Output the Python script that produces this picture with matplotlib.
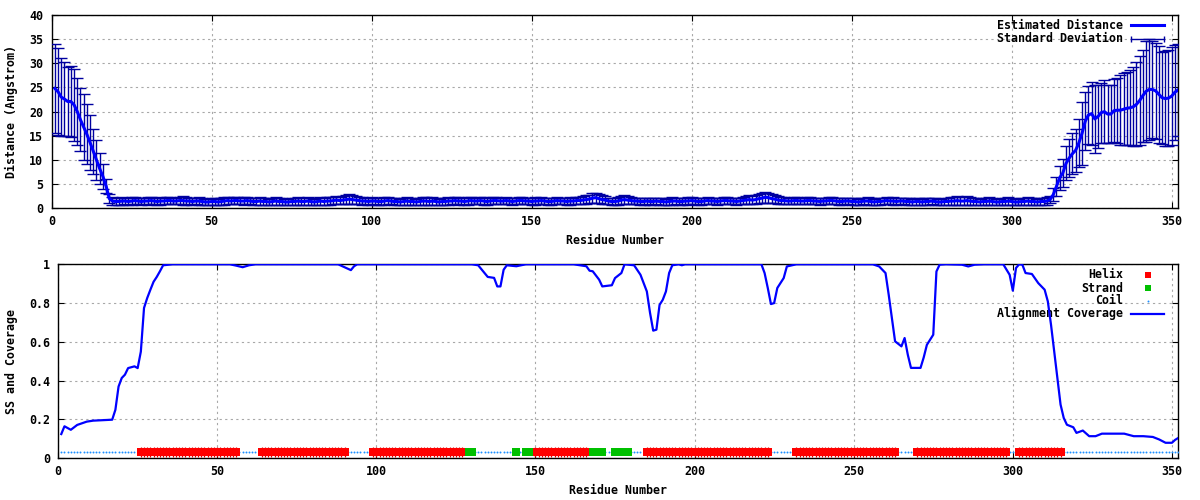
import numpy as np
import matplotlib
matplotlib.use('Agg')
import matplotlib.pyplot as plt
from matplotlib.lines import Line2D

# ---------------- data ----------------
residues = np.arange(1, 353)

dist_nterm = [24.8, 24.1, 23.0, 22.6, 22.1, 22.1, 21.4, 20.0, 18.3, 16.8,
              15.3, 13.6, 11.8, 10.0, 8.2, 6.6, 4.6, 2.0]
sd_nterm = [9.3, 9.0, 8.0, 7.6, 7.2, 7.4, 7.4, 7.0, 6.5, 6.9,
            6.2, 5.7, 4.6, 4.1, 3.2, 2.6, 1.5, 1.0]

dist_core = [
    1.5, 1.4, 1.4, 1.5, 1.5, 1.4, 1.5, 1.6, 1.5, 1.4, 1.5, 1.5, 1.6, 1.5, 1.4, 1.5, 1.5, 1.6, 1.6, 1.5,
    1.5, 1.6, 1.6, 1.5, 1.5, 1.4, 1.5, 1.5, 1.4, 1.3, 1.3, 1.4, 1.4, 1.3, 1.4, 1.5, 1.6, 1.5, 1.6, 1.6,
    1.5, 1.5, 1.6, 1.5, 1.4, 1.4, 1.5, 1.4, 1.4, 1.3, 1.4, 1.5, 1.4, 1.4, 1.3, 1.3, 1.4, 1.4, 1.5, 1.4,
    1.4, 1.5, 1.4, 1.3, 1.4, 1.5, 1.4, 1.5, 1.5, 1.6, 1.7, 1.6, 1.7, 1.8, 1.9, 1.8, 1.7, 1.6, 1.5, 1.5,
    1.4, 1.5, 1.5, 1.4, 1.4, 1.5, 1.6, 1.5, 1.4, 1.4, 1.3, 1.4, 1.5, 1.4, 1.4, 1.3, 1.4, 1.5, 1.5, 1.4,
    1.5, 1.4, 1.3, 1.4, 1.4, 1.5, 1.5, 1.6, 1.5, 1.5, 1.4, 1.5, 1.6, 1.5, 1.5, 1.6, 1.5, 1.4, 1.5, 1.6,
    1.6, 1.5, 1.5, 1.6, 1.5, 1.4, 1.5, 1.6, 1.6, 1.5, 1.5, 1.4, 1.5, 1.5, 1.6, 1.5, 1.4, 1.4, 1.5, 1.6,
    1.5, 1.5, 1.4, 1.5, 1.5, 1.6, 1.6, 1.7, 1.8, 1.9, 2.1, 2.2, 2.0, 1.8, 1.7, 1.5, 1.4, 1.4, 1.5, 1.7,
    1.8, 1.7, 1.6, 1.5, 1.5, 1.4, 1.4, 1.5, 1.4, 1.4, 1.5, 1.4, 1.4, 1.3, 1.4, 1.5, 1.5, 1.4, 1.4, 1.5,
    1.5, 1.6, 1.5, 1.4, 1.4, 1.5, 1.6, 1.5, 1.5, 1.4, 1.5, 1.6, 1.6, 1.5, 1.5, 1.4, 1.5, 1.6, 1.7, 1.8,
    1.7, 1.8, 2.0, 2.1, 2.3, 2.2, 2.0, 1.9, 1.7, 1.6, 1.6, 1.5, 1.5, 1.6, 1.6, 1.5, 1.5, 1.6, 1.6, 1.5,
    1.5, 1.4, 1.5, 1.5, 1.6, 1.6, 1.5, 1.4, 1.4, 1.5, 1.5, 1.4, 1.4, 1.3, 1.4, 1.5, 1.5, 1.4, 1.3, 1.4,
    1.4, 1.5, 1.6, 1.5, 1.5, 1.4, 1.5, 1.5, 1.4, 1.4, 1.3, 1.4, 1.4, 1.3, 1.4, 1.4, 1.5, 1.4, 1.3, 1.3,
    1.4, 1.4, 1.5, 1.5, 1.6, 1.5, 1.5, 1.6, 1.5, 1.4, 1.4, 1.3, 1.4, 1.4, 1.5, 1.4, 1.3, 1.3, 1.4, 1.4,
    1.5, 1.4, 1.3, 1.3, 1.4, 1.4, 1.5, 1.4, 1.4, 1.3, 1.4, 1.4, 1.5]
sd_core = [
    0.8, 0.7, 0.7, 0.8, 0.7, 0.7, 0.8, 0.8, 0.7, 0.7, 0.7, 0.8, 0.8, 0.7, 0.7, 0.8, 0.7, 0.8, 0.8, 0.7,
    0.7, 0.8, 0.9, 0.8, 0.7, 0.7, 0.7, 0.8, 0.7, 0.7, 0.7, 0.7, 0.8, 0.7, 0.7, 0.8, 0.8, 0.7, 0.8, 0.8,
    0.7, 0.8, 0.8, 0.7, 0.7, 0.7, 0.8, 0.7, 0.7, 0.7, 0.7, 0.8, 0.7, 0.7, 0.7, 0.7, 0.7, 0.7, 0.8, 0.7,
    0.7, 0.8, 0.7, 0.7, 0.7, 0.8, 0.7, 0.8, 0.8, 0.8, 0.9, 0.8, 0.9, 1.0, 1.0, 0.9, 0.9, 0.8, 0.8, 0.7,
    0.7, 0.8, 0.7, 0.7, 0.7, 0.8, 0.8, 0.7, 0.7, 0.7, 0.7, 0.7, 0.8, 0.7, 0.7, 0.7, 0.7, 0.8, 0.8, 0.7,
    0.8, 0.7, 0.7, 0.7, 0.7, 0.8, 0.7, 0.8, 0.8, 0.7, 0.7, 0.8, 0.8, 0.7, 0.7, 0.8, 0.8, 0.7, 0.7, 0.8,
    0.8, 0.7, 0.7, 0.8, 0.7, 0.7, 0.7, 0.8, 0.8, 0.7, 0.7, 0.7, 0.8, 0.7, 0.8, 0.7, 0.7, 0.7, 0.7, 0.8,
    0.7, 0.7, 0.7, 0.8, 0.7, 0.8, 0.8, 0.8, 0.9, 0.9, 1.0, 1.0, 0.9, 0.9, 0.8, 0.7, 0.7, 0.7, 0.8, 0.8,
    0.9, 0.8, 0.8, 0.7, 0.7, 0.7, 0.7, 0.7, 0.7, 0.7, 0.7, 0.7, 0.7, 0.7, 0.7, 0.8, 0.7, 0.7, 0.7, 0.7,
    0.8, 0.8, 0.7, 0.7, 0.7, 0.7, 0.8, 0.7, 0.7, 0.7, 0.7, 0.8, 0.8, 0.7, 0.7, 0.7, 0.7, 0.8, 0.8, 0.9,
    0.8, 0.9, 1.0, 1.0, 1.1, 1.0, 1.0, 0.9, 0.8, 0.8, 0.8, 0.7, 0.7, 0.8, 0.8, 0.7, 0.7, 0.8, 0.8, 0.7,
    0.7, 0.7, 0.7, 0.7, 0.8, 0.8, 0.7, 0.7, 0.7, 0.7, 0.7, 0.7, 0.7, 0.7, 0.7, 0.7, 0.8, 0.7, 0.7, 0.7,
    0.7, 0.7, 0.8, 0.7, 0.8, 0.7, 0.7, 0.7, 0.7, 0.7, 0.7, 0.7, 0.7, 0.7, 0.7, 0.7, 0.7, 0.7, 0.7, 0.7,
    0.7, 0.8, 0.8, 0.8, 0.9, 0.8, 0.8, 0.9, 0.8, 0.8, 0.7, 0.7, 0.7, 0.7, 0.8, 0.7, 0.7, 0.7, 0.7, 0.7,
    0.8, 0.7, 0.7, 0.7, 0.7, 0.7, 0.8, 0.7, 0.7, 0.7, 0.7, 0.7, 0.8]

dist_cterm = [1.8, 2.8, 4.5, 6.3, 7.3, 9.3, 10.4, 11.3, 12.0, 13.5,
              15.5, 18.0, 19.3, 19.6, 18.5, 19.0, 19.8, 20.0, 19.5, 19.5,
              20.2, 20.3, 20.3, 20.5, 20.7, 20.8, 21.0, 21.5, 22.3, 23.3,
              24.2, 24.6, 24.6, 24.3, 23.6, 22.9, 22.7, 22.8, 23.2, 24.0, 24.5]
sd_cterm = [0.8, 1.3, 2.0, 2.5, 2.8, 3.5, 4.0, 4.2, 4.5, 5.0,
            6.5, 6.0, 6.0, 6.5, 7.0, 6.5, 6.2, 6.5, 6.0, 6.0,
            6.5, 6.7, 7.3, 7.5, 7.6, 7.8, 8.2, 8.7, 9.3, 9.5,
            10.5, 10.5, 10.0, 10.0, 10.0, 9.5, 9.8, 10.0, 10.2, 9.8, 9.6]

distance = np.array(dist_nterm + dist_core + dist_cterm)
std_dev = np.array(sd_nterm + sd_core + sd_cterm)

cov_res = [1, 2, 4, 6, 9, 11, 17, 18, 19, 20, 21, 22, 24, 25, 26, 27, 28, 29, 30, 31,
           32, 33, 36, 54, 56, 58, 60, 62, 88, 90, 92, 93, 94, 130, 132, 134, 135, 137, 138, 139,
           140, 141, 144, 147, 162, 166, 167, 168, 170, 171, 174, 175, 177, 178, 181, 183, 185, 186, 187, 188,
           189, 190, 191, 192, 193, 195, 196, 197, 221, 222, 223, 224, 225, 226, 228, 229, 232, 256, 258, 260,
           261, 262, 263, 264, 265, 266, 267, 268, 271, 272, 273, 275, 276, 277, 279, 284, 286, 288, 291, 297,
           299, 300, 301, 302, 303, 304, 306, 308, 310, 311, 312, 313, 314, 315, 316, 317, 319, 320, 322, 324,
           326, 328, 335, 338, 341, 344, 346, 348, 350, 351, 352]
cov_val = [0.125, 0.165, 0.147, 0.172, 0.189, 0.194, 0.199, 0.25, 0.37, 0.414, 0.431, 0.465, 0.474, 0.465, 0.55, 0.775, 0.826, 0.869, 0.91, 0.935,
           0.964, 0.995, 1.0, 1.0, 0.993, 0.985, 0.995, 1.0, 1.0, 0.985, 0.97, 0.99, 1.0, 1.0, 0.995, 0.955, 0.935, 0.93, 0.886, 0.886,
           0.972, 0.995, 0.99, 1.0, 1.0, 0.99, 0.967, 0.964, 0.921, 0.886, 0.892, 0.929, 0.955, 1.0, 0.995, 0.946, 0.86, 0.75, 0.658, 0.663,
           0.791, 0.817, 0.86, 0.955, 0.995, 1.0, 0.995, 1.0, 1.0, 0.955, 0.878, 0.795, 0.8, 0.878, 0.929, 0.989, 1.0, 1.0, 0.989, 0.955,
           0.843, 0.723, 0.603, 0.59, 0.577, 0.62, 0.534, 0.466, 0.466, 0.52, 0.585, 0.637, 0.963, 0.998, 1.0, 0.998, 0.989, 0.998, 1.0, 1.0,
           0.946, 0.864, 0.981, 1.0, 0.998, 0.955, 0.95, 0.903, 0.869, 0.809, 0.689, 0.552, 0.414, 0.277, 0.208, 0.173, 0.160, 0.131, 0.143, 0.114,
           0.114, 0.127, 0.127, 0.114, 0.114, 0.110, 0.097, 0.080, 0.080, 0.095, 0.105]

helix_segments = [(26, 56), (64, 90), (99, 127), (150, 166), (185, 223),
                  (232, 263), (270, 298), (302, 315)]
strand_segments = [(129, 130), (144, 144), (147, 148), (168, 171), (175, 179)]
ss_level = 0.03

x_ticks = [0, 50, 100, 150, 200, 250, 300, 350]
dist_ticks = [0, 5, 10, 15, 20, 25, 30, 35, 40]
cov_ticks = [0, 0.2, 0.4, 0.6, 0.8, 1.0]
cov_tick_labels = ['0', '0.2', '0.4', '0.6', '0.8', '1']

# ---------------- derived SS tables ----------------
helix_res = [r for a, b in helix_segments for r in range(a, b + 1)]
strand_res = [r for a, b in strand_segments for r in range(a, b + 1)]
ss_taken = set(helix_res) | set(strand_res)
coil_res = [r for r in residues if r not in ss_taken]

# ---------------- style ----------------
FONT = 'DejaVu Sans Mono'
FS = 8.4
plt.rcParams['font.family'] = FONT
plt.rcParams['font.weight'] = 'bold'
plt.rcParams['font.size'] = FS

W, H = 1200, 500
fig = plt.figure(figsize=(12, 5), dpi=100)


def box(l, t, r, b):
    return [l / W, 1 - b / H, (r - l) / W, (b - t) / H]


ax1 = fig.add_axes(box(51.7, 15, 1178, 208.3))
ax2 = fig.add_axes(box(58.1, 264.3, 1178.3, 458.3))

grid_kw = dict(color='#a8a8a8', linestyle=(0, (2, 3)), linewidth=0.8)

for ax in (ax1, ax2):
    ax.set_xlim(0, 352)
    ax.set_xticks(x_ticks)
    ax.grid(True, **grid_kw)
    ax.set_axisbelow(True)
    ax.tick_params(direction='in', top=True, right=True, length=4.5, width=0.8,
                   labelsize=FS, colors='black')
    ax.tick_params(axis='x', pad=5)
    ax.tick_params(axis='y', pad=6)
    for s in ax.spines.values():
        s.set_linewidth(1.0)
    for lab in ax.get_xticklabels() + ax.get_yticklabels():
        lab.set_fontweight('bold')

# ---- top panel ----
ax1.set_ylim(0, 40)
ax1.set_yticks(dist_ticks)
ax1.errorbar(residues, distance, yerr=std_dev, fmt='none', ecolor='#0000a0',
             elinewidth=1.0, capsize=4.6, capthick=1.0, zorder=3)
ax1.plot(residues, distance, color='#0000ff', linewidth=2.2, zorder=4)
ax1.set_xlabel('Residue Number', fontweight='bold', fontsize=FS, labelpad=4)
ax1.set_ylabel('Distance (Angstrom)', fontweight='bold', fontsize=FS, labelpad=8)

# legend (gnuplot style: text then sample)
tr1 = ax1.transAxes
def ax_frac(ax_l, ax_t, ax_r, ax_b, px, py):
    return ((px - ax_l) / (ax_r - ax_l), (ax_b - py) / (ax_b - ax_t))

A = (51.7, 15, 1178, 208.3)
x_t, y_t = ax_frac(*A, 1123, 25.5)
ax1.text(x_t, y_t, 'Estimated Distance', transform=tr1, ha='right', va='center',
         fontweight='bold', fontsize=FS)
xa, ya = ax_frac(*A, 1131, 24.5)
xb, _ = ax_frac(*A, 1164, 24.5)
ax1.add_line(Line2D([xa, xb], [ya, ya], transform=tr1, color='#0000ff', linewidth=2.2))
x_t, y_t = ax_frac(*A, 1123, 38.8)
ax1.text(x_t, y_t, 'Standard Deviation', transform=tr1, ha='right', va='center',
         fontweight='bold', fontsize=FS)
xa, ya = ax_frac(*A, 1131, 38.8)
xb, _ = ax_frac(*A, 1164, 38.8)
ax1.add_line(Line2D([xa, xb], [ya, ya], transform=tr1, color='#0000a0', linewidth=1.0,
                    marker='|', markersize=4.6, markevery=[0, 1], markeredgewidth=1.0))

# ---- bottom panel ----
ax2.set_ylim(0, 1)
ax2.set_yticks(cov_ticks)
ax2.set_yticklabels(cov_tick_labels)
for lab in ax2.get_yticklabels():
    lab.set_fontweight('bold')
ax2.plot(coil_res, [ss_level] * len(coil_res), linestyle='none', marker='o',
         markersize=1.4, markeredgewidth=0, color='#1e90ff', zorder=3)
ax2.plot(helix_res, [ss_level] * len(helix_res), linestyle='none', marker='|',
         markersize=7.0, markeredgewidth=0.9, color='#e00000', zorder=3)
ax2.plot(helix_res, [ss_level] * len(helix_res), linestyle='none', marker='s',
         markersize=5.2, markeredgewidth=0, color='#ff0000', zorder=3)
ax2.plot(strand_res, [ss_level] * len(strand_res), linestyle='none', marker='s',
         markersize=5.2, markeredgewidth=0, color='#00c000', zorder=4)
ax2.plot(cov_res, cov_val, color='#0000ff', linewidth=1.6, zorder=5)
ax2.set_xlabel('Residue Number', fontweight='bold', fontsize=FS, labelpad=4)
ax2.set_ylabel('SS and Coverage', fontweight='bold', fontsize=FS, labelpad=8)

tr2 = ax2.transAxes
B = (58.1, 264.3, 1178.3, 458.3)
rows = [('Helix', 275.0), ('Strand', 288.0), ('Coil', 300.7), ('Alignment Coverage', 313.8)]
for txt, py in rows:
    xt, yt = ax_frac(*B, 1123, py)
    ax2.text(xt, yt, txt, transform=tr2, ha='right', va='center', fontweight='bold', fontsize=FS)
xs, ys = ax_frac(*B, 1147.5, 275.0)
ax2.add_line(Line2D([xs], [ys], transform=tr2, marker='s', markersize=5.0, color='#ff0000',
                    markeredgewidth=0, linestyle='none'))
xs, ys = ax_frac(*B, 1147.5, 288.0)
ax2.add_line(Line2D([xs], [ys], transform=tr2, marker='s', markersize=5.0, color='#00c000',
                    markeredgewidth=0, linestyle='none'))
xs, ys = ax_frac(*B, 1147.5, 300.7)
ax2.add_line(Line2D([xs], [ys], transform=tr2, marker='o', markersize=1.4, color='#1e90ff',
                    markeredgewidth=0, linestyle='none'))
xa, ya = ax_frac(*B, 1131, 313.8)
xb, _ = ax_frac(*B, 1164, 313.8)
ax2.add_line(Line2D([xa, xb], [ya, ya], transform=tr2, color='#0000ff', linewidth=1.6))

fig.savefig('out.png', dpi=100)
